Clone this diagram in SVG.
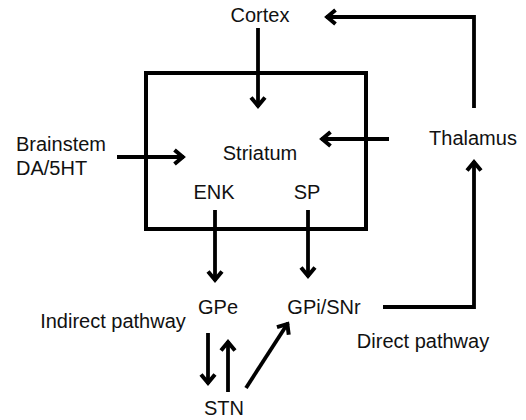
<svg xmlns="http://www.w3.org/2000/svg" width="526" height="420" viewBox="0 0 526 420">
<style>
text{font-family:"Liberation Sans",Arial,sans-serif;font-size:20px;fill:#111}
.c{text-anchor:middle}
.ln{fill:none;stroke:#000;stroke-width:3.8;stroke-linejoin:miter}
</style>
<defs>
<marker id="ah" markerUnits="userSpaceOnUse" viewBox="-14 -10 18 20" refX="0" refY="0" markerWidth="18" markerHeight="20" orient="auto">
<path d="M-9.5,-7 L-1.2,0 L-9.5,7" fill="none" stroke="#000" stroke-width="4" stroke-linejoin="miter" stroke-miterlimit="4"/>
</marker>
</defs>
<rect width="526" height="420" fill="#fff"/>
<g id="striatum">
<rect x="146" y="73" width="220" height="156" fill="none" stroke="#000" stroke-width="4"/>
<text class="c" x="260" y="160">Striatum</text>
<text class="c" x="214" y="199">ENK</text>
<text class="c" x="307" y="199">SP</text>
</g>
<g id="cortex"><text class="c" x="260" y="22">Cortex</text></g>
<g id="thalamus"><text class="c" x="473" y="145">Thalamus</text></g>
<g id="brainstem"><text x="16" y="151">Brainstem</text><text x="16" y="175">DA/5HT</text></g>
<g id="gpe"><text class="c" x="218" y="314">GPe</text></g>
<g id="gpi"><text class="c" x="324" y="314">GPi/SNr</text></g>
<g id="stn"><text class="c" x="224" y="415">STN</text></g>
<g id="labels">
<text class="c" x="113" y="328">Indirect pathway</text>
<text class="c" x="423" y="348">Direct pathway</text>
</g>
<g id="connectors">
<path class="ln" d="M258,28 V107" marker-end="url(#ah)"/>
<path class="ln" d="M474,108 V17 H326" marker-end="url(#ah)"/>
<path class="ln" d="M389,139 H321" marker-end="url(#ah)"/>
<path class="ln" d="M117,157 H184" marker-end="url(#ah)"/>
<path class="ln" d="M215,210 V281" marker-end="url(#ah)"/>
<path class="ln" d="M308,210 V277" marker-end="url(#ah)"/>
<path class="ln" d="M383,307 H474 V161" marker-end="url(#ah)"/>
<path class="ln" d="M208,333 V384" marker-end="url(#ah)"/>
<path class="ln" d="M228,392 V341" marker-end="url(#ah)"/>
<path class="ln" d="M246,388 L288,323" marker-end="url(#ah)"/>
</g>
</svg>
